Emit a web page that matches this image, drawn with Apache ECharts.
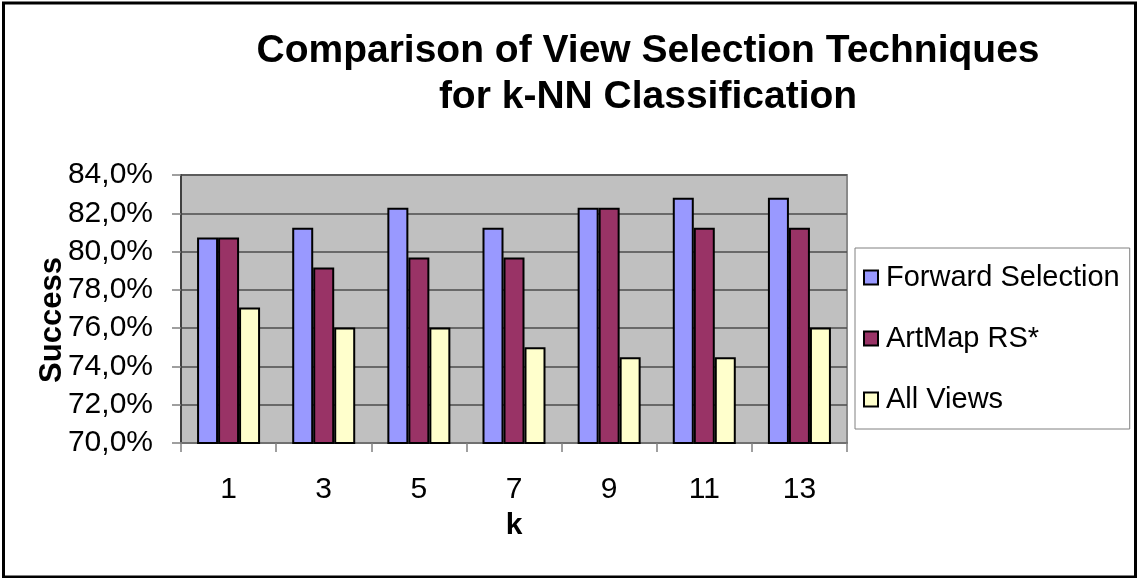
<!DOCTYPE html>
<html>
<head>
<meta charset="utf-8">
<script src="https://cdn.jsdelivr.net/npm/echarts@6/dist/echarts.min.js"></script>
<style>
  html, body { margin: 0; padding: 0; background: #ffffff; }
  #chart { width: 1137px; height: 578px; }
</style>
</head>
<body>
<div id="chart"></div>
<script>
// k values of the k-NN classifier
const kValues = ['1', '3', '5', '7', '9', '11', '13'];
// classification success (%) per view selection technique
const forwardSelection = [80.73, 81.25, 82.29, 81.25, 82.29, 82.81, 82.81];
const artMapRS = [80.73, 79.17, 79.69, 79.69, 82.29, 81.25, 81.25];
const allViews = [77.08, 76.04, 76.04, 75.00, 74.48, 74.48, 76.04];
const seriesNames = ['Forward Selection', 'ArtMap RS*', 'All Views'];
const titleText = 'Comparison of View Selection Techniques\nfor k-NN Classification';

const FONT = '"Liberation Sans", Arial, sans-serif';
const colors = ['#9999ff', '#993366', '#ffffcc'];

const chart = echarts.init(document.getElementById('chart'), null, { renderer: 'canvas' });

function barSeries(name, data, color) {
  return {
    name: name,
    type: 'bar',
    data: data,
    barWidth: 21,
    barGap: '0%',
    itemStyle: { color: color, borderColor: '#000000', borderWidth: 2 }
  };
}

chart.setOption({
  animation: false,
  backgroundColor: '#ffffff',
  textStyle: { fontFamily: FONT },
  title: {
    text: titleText,
    left: 643,
    top: 23,
    textAlign: 'center',
    textStyle: { fontFamily: FONT, fontSize: 39, fontWeight: 'bold', color: '#000', lineHeight: 46 }
  },
  grid: {
    left: 181, right: 290, top: 175, bottom: 135,
    show: true,
    backgroundColor: '#c0c0c0',
    borderColor: '#8a8a8a',
    borderWidth: 2
  },
  legend: {
    orient: 'vertical',
    left: 855,
    top: 248,
    padding: [15, 10, 15, 8],
    itemGap: 32,
    itemWidth: 14,
    itemHeight: 14,
    backgroundColor: '#ffffff',
    borderColor: '#808080',
    borderWidth: 1,
    borderRadius: 0,
    icon: 'rect',
    textStyle: { fontFamily: FONT, fontSize: 29, color: '#000', padding: [0, 0, 0, 3] },
    data: seriesNames
  },
  xAxis: {
    type: 'category',
    data: kValues,
    name: 'k',
    nameLocation: 'middle',
    nameGap: 68,
    nameTextStyle: { fontFamily: FONT, fontSize: 30, fontWeight: 'bold', color: '#000' },
    axisLine: { show: true, lineStyle: { color: '#707070', width: 2 } },
    axisTick: { show: true, length: 9, lineStyle: { color: '#808080', width: 1.5 } },
    axisLabel: { fontFamily: FONT, fontSize: 30, color: '#000', margin: 32 }
  },
  yAxis: {
    type: 'value',
    min: 70,
    max: 84,
    interval: 2,
    axisLine: { show: true, lineStyle: { color: '#404040', width: 2 } },
    axisTick: { show: true, length: 9, lineStyle: { color: '#808080', width: 1.5 } },
    axisLabel: {
      fontFamily: FONT, fontSize: 30, color: '#000', margin: 28,
      formatter: function (v) { return v.toFixed(1).replace('.', ',') + '%'; }
    },
    splitLine: { show: true, lineStyle: { color: '#4d4d4d', width: 1.5 } }
  },
  series: [
    barSeries(seriesNames[0], forwardSelection, colors[0]),
    barSeries(seriesNames[1], artMapRS, colors[1]),
    barSeries(seriesNames[2], allViews, colors[2])
  ],
  graphic: [
    {
      type: 'text',
      x: 52, y: 320,
      rotation: Math.PI / 2,
      z: 100,
      style: {
        text: 'Success',
        font: 'bold 31px ' + FONT,
        fill: '#000',
        textAlign: 'center',
        textVerticalAlign: 'middle'
      }
    },
    {
      type: 'rect',
      z: 100,
      shape: { x: 3.5, y: 3, width: 1132, height: 574 },
      style: { fill: null, stroke: '#000', lineWidth: 3 }
    }
  ]
});
</script>
</body>
</html>
